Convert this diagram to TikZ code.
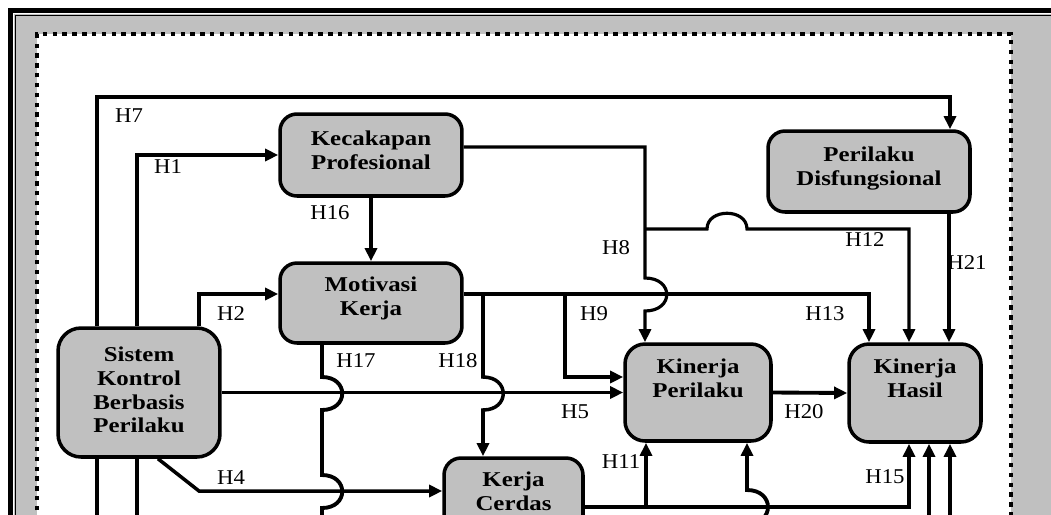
\documentclass[tikz,border=0pt]{standalone}
\usepackage{fontspec}
\setmainfont{Liberation Serif}
\newfontfamily\boxfont[FakeStretch=1.18]{Liberation Serif}
\newfontfamily\hypfont[FakeStretch=1.08]{Liberation Serif}
\usetikzlibrary{arrows.meta,calc}
\definecolor{panelgray}{HTML}{C0C0C0}

\begin{document}
\begin{tikzpicture}[x=0.02cm,y=-0.02cm,
  construct/.style={draw=black, line width=2pt, fill=panelgray, rounded corners=0.34cm, inner sep=0pt},
  ctext/.style={font=\boxfont\bfseries\fontsize{12}{13.6}\selectfont, align=center, inner sep=0pt, anchor=north},
  hyp/.style={font=\hypfont\fontsize{12}{14}\selectfont, inner sep=0pt},
  link/.style={line width=2.2pt, -{Triangle[length=7.5pt,width=6.8pt]}},
  plain/.style={line width=2.2pt},
  heavy/.style={line width=2.8pt},
  light/.style={line width=1.8pt}
]
\clip (0,0) rectangle (1051,514);

% frame: grey band, double rule, dotted inner panel
\fill[panelgray] (14,14) rectangle (1060,530);
\fill[white] (37,34) rectangle (1011,530);
\draw[line width=2.2pt, dash pattern=on 2.5pt off 3.1pt] (37,530) -- (37,34) -- (1011,34) -- (1011,530);
\draw[line width=2.8pt] (10.5,530) -- (10.5,10.5) -- (1060,10.5);
\draw[line width=0.7pt] (15.5,530) -- (15.5,15.5) -- (1060,15.5);

% constructs
\node[construct, minimum width=3.64cm, minimum height=1.64cm] (kp) at (371,155) {};
\node[construct, minimum width=4.04cm, minimum height=1.62cm] (pd) at (869,171.5) {};
\node[construct, minimum width=3.64cm, minimum height=1.6cm] (mk) at (371,303) {};
\node[construct, minimum width=3.24cm, minimum height=2.58cm, rounded corners=0.46cm] (sk) at (139,392.5) {};
\node[construct, minimum width=2.92cm, minimum height=1.94cm, rounded corners=0.4cm] (kpr) at (698,392.5) {};
\node[construct, minimum width=2.64cm, minimum height=1.96cm, rounded corners=0.4cm] (kh) at (915,393) {};
\node[construct, minimum width=2.78cm, minimum height=2.0cm] (kc) at (513.5,508) {};

\node[ctext] (kp-t) at ($(kp.north)+(0,18)$) {Kecakapan\\Profesional};
\node[ctext] (pd-t) at ($(pd.north)+(0,17)$) {Perilaku\\Disfungsional};
\node[ctext] (mk-t) at ($(mk.north)+(0,15)$) {Motivasi\\Kerja};
\node[ctext] (sk-t) at ($(sk.north)+(0,20)$) {Sistem\\Kontrol\\Berbasis\\Perilaku};
\node[ctext] (kpr-t) at ($(kpr.north)+(0,16)$) {Kinerja\\Perilaku};
\node[ctext] (kh-t) at ($(kh.north)+(0,16)$) {Kinerja\\Hasil};
\node[ctext] (kc-t) at ($(kc.north)+(0,15)$) {Kerja\\Cerdas};

% junctions and free ends
\coordinate (j18) at (483,294);
\coordinate (j9) at (565,294);
\coordinate (j12) at (645,229);
\coordinate (j11) at (646,507);
\coordinate (b97) at (97,530);
\coordinate (b137) at (137,530);
\coordinate (b322) at (322,530);
\coordinate (b747) at (747,530);
\coordinate (b929) at (929,530);
\coordinate (b950) at (950,530);

% H7
\draw[link, heavy] (97,0 |- sk.north) -- (97,97) -- (950,97) -- (950,0 |- pd.north);
% H1
\draw[link, line width=2.5pt] (137,0 |- sk.north) |- (kp.west);
% H2
\draw[link] (199,0 |- sk.north) |- (mk.west |- 0,294);
% H16
\draw[link] (kp.south) -- (mk.north);
% H5
\draw[link] (sk.east) -- (kpr.west);
% H4
\draw[link, line width=2pt] (158,0 |- sk.south) -- (199,491) -- (kc.west |- 0,491);
% H17 (runs on below)
\draw[plain] (322,0 |- mk.south) -- (322,377) .. controls (349,377) and (349,410) .. (322,410)
  -- (322,475) .. controls (349,475) and (349,508) .. (322,508) -- (b322);
% H13
\draw[link, line width=2pt] (mk.east |- 0,294) -- (869,294) -- (869,0 |- kh.north);
% H18
\draw[link, line width=2pt] (j18) -- (483,377) .. controls (510,377) and (510,410) .. (483,410) -- (483,0 |- kc.north);
% H9
\draw[link, line width=2pt] (j9) |- (kpr.west |- 0,377);
% H8
\draw[link, light] (kp.east |- 0,147) -| (645,278) .. controls (674,278) and (674,311) .. (645,311) -- (645,0 |- kpr.north);
% H12
\draw[link, light] (j12) -- (707,229) .. controls (707,208) and (747,208) .. (747,229) -| (909,0 |- kh.north);
% H21
\draw[link, light] (949,0 |- pd.south) -- (949,0 |- kh.north);
% H20
\draw[link] (kpr.east) -- (kh.west);
% H15
\draw[link] (kc.east |- 0,507) -| (909,0 |- kh.south);
% H11
\draw[link] (j11) -- (646,0 |- kpr.south);
% arrows entering from below
\draw[link] (b747) -- (747,524) .. controls (775,524) and (775,490) .. (747,490) -- (747,0 |- kpr.south);
\draw[link] (b929) -- (929,0 |- kh.south);
\draw[link, heavy] (b950) -- (950,0 |- kh.south);
\draw[heavy] (97,0 |- sk.south) -- (b97);
\draw[heavy] (137,0 |- sk.south) -- (b137);

% hypothesis labels
\node[hyp] (l7) at (129,116) {H7};
\node[hyp] (l1) at (168,167) {H1};
\node[hyp] (l16) at (330,213) {H16};
\node[hyp] (l2) at (231,314) {H2};
\node[hyp] (l4) at (231,478) {H4};
\node[hyp] (l8) at (616,248) {H8};
\node[hyp] (l12) at (865,240) {H12};
\node[hyp] (l21) at (967,263) {H21};
\node[hyp] (l9) at (594,314) {H9};
\node[hyp] (l13) at (825,314) {H13};
\node[hyp] (l17) at (356,361) {H17};
\node[hyp] (l18) at (458,361) {H18};
\node[hyp] (l5) at (575,412) {H5};
\node[hyp] (l20) at (804,412) {H20};
\node[hyp] (l11) at (621,462) {H11};
\node[hyp] (l15) at (885,477) {H15};
\end{tikzpicture}
\end{document}
